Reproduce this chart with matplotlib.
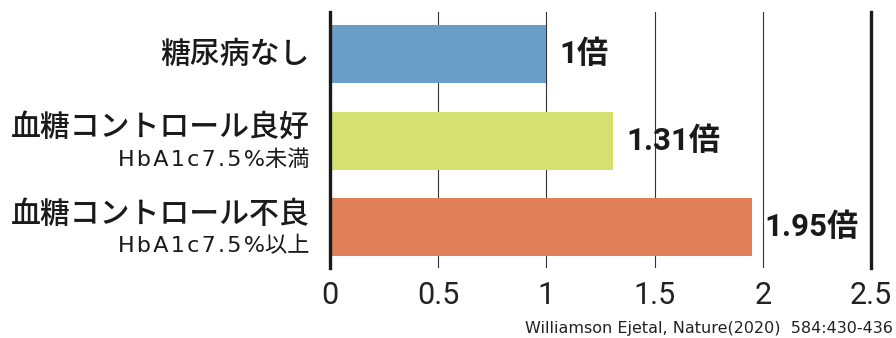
import matplotlib

matplotlib.use("Agg")

import matplotlib.pyplot as plt
import matplotlib.transforms as mtransforms

plt.rcParams["font.family"] = ["Noto Sans CJK JP", "DejaVu Sans"]
SUB_FONT = ["DejaVu Sans", "Noto Sans CJK JP"]
NUM_FONT = ["Roboto", "Noto Sans CJK JP"]

# data
main_labels = ["糖尿病なし", "血糖コントロール良好", "血糖コントロール不良"]
sub_labels = ["", "HbA1c7.5%未満", "HbA1c7.5%以上"]
ratios = [1.0, 1.31, 1.95]
value_labels = ["1倍", "1.31倍", "1.95倍"]
bar_colors = ["#6a9dc7", "#d4e06f", "#e07f58"]
xticks = [0, 0.5, 1, 1.5, 2, 2.5]
xtick_labels = ["0", "0.5", "1", "1.5", "2", "2.5"]
credit = "Williamson Ejetal, Nature(2020)  584:430-436"


def tracked(s: str) -> str:
    # loose letter spacing on the latin part, like the original artwork
    latin = s[:-2]
    return "\u200a".join(latin) + s[-2:]


fig = plt.figure(figsize=(8.96, 3.38), dpi=100)
ax = fig.add_axes([330 / 896, 70 / 338, 541 / 896, 256 / 338])

ypos = list(range(len(ratios)))
ax.barh(ypos, ratios, height=0.67, color=bar_colors, zorder=2)

ax.set_xlim(0, 2.5)
ax.set_ylim(2.475, -0.49)
ax.set_xticks(xticks)
ax.set_xticklabels(xtick_labels, fontsize=22, color="#222222", family=NUM_FONT)
ax.tick_params(axis="x", length=0, pad=9)
ax.set_yticks([])
ax.grid(axis="x", color="#333333", linewidth=0.8, zorder=1)

for side in ["top", "bottom"]:
    ax.spines[side].set_visible(False)
for side in ["left", "right"]:
    ax.spines[side].set_linewidth(2.4)
    ax.spines[side].set_color("#1a1a1a")
    ax.spines[side].set_zorder(3)

trans = mtransforms.blended_transform_factory(ax.transAxes, ax.transData)
for y, main, sub in zip(ypos, main_labels, sub_labels):
    if sub:
        ax.text(-0.037, y - 0.15, main, transform=trans, ha="right", va="center",
                fontsize=21.5, fontweight="medium", color="#1a1a1a")
        ax.text(-0.037, y + 0.22, tracked(sub), transform=trans, ha="right", va="center",
                fontsize=16, color="#1a1a1a", family=SUB_FONT)
    else:
        ax.text(-0.037, y, main, transform=trans, ha="right", va="center",
                fontsize=21.5, fontweight="medium", color="#1a1a1a")

for y, val, lab in zip(ypos, ratios, value_labels):
    ax.annotate(lab, (val, y), xytext=(9, 0), textcoords="offset points",
                ha="left", va="center", fontsize=22.5, fontweight="bold",
                color="#1a1a1a", family=NUM_FONT)

fig.text(893 / 896, 1 - 328 / 338, credit, ha="right", va="center",
         fontsize=11.5, color="#222222", family=SUB_FONT)

fig.savefig("out.png", dpi=100)
